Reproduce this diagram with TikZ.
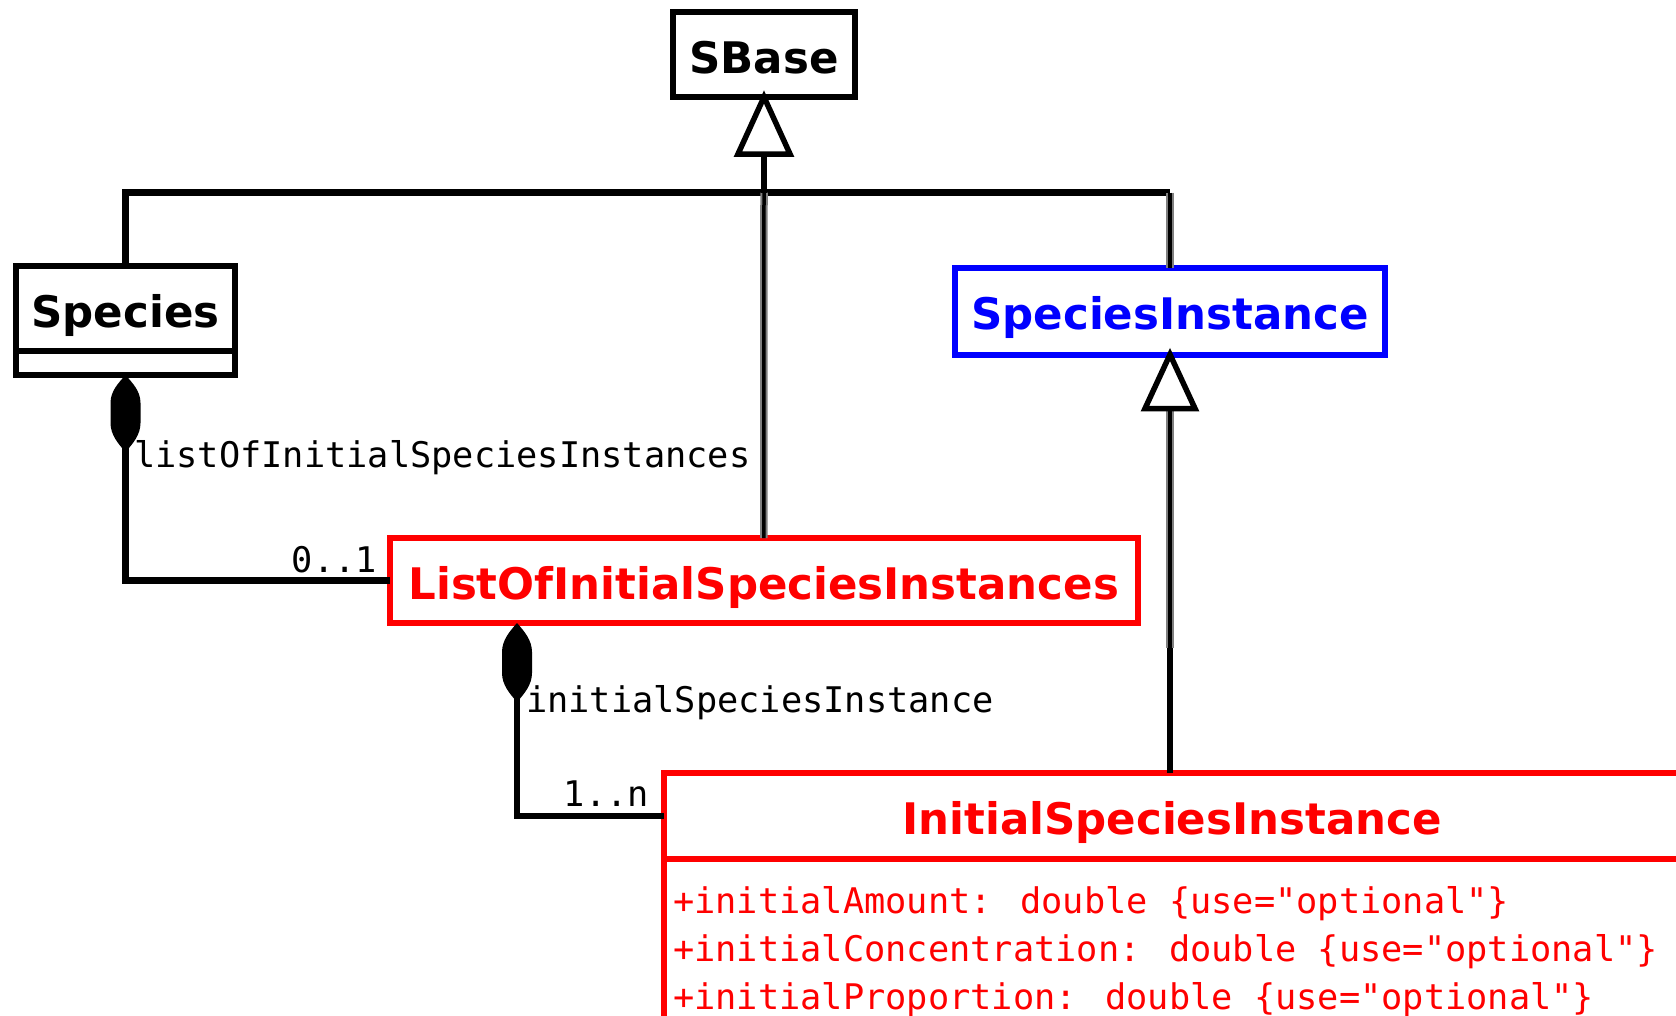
\documentclass[tikz,border=0pt]{standalone}
\usepackage{fontspec}
\setmainfont{DejaVu Sans}
\newfontfamily\monof{DejaVu Sans Mono}
\usetikzlibrary{calc}
\definecolor{umlred}{RGB}{255,0,0}
\definecolor{umlblue}{RGB}{0,0,255}
\tikzset{
  cls/.style={draw=black, line width=6pt, inner sep=0pt, outer sep=0pt,
    text height=37pt, text depth=0pt,
    font=\fontsize{43.5}{50}\selectfont\bfseries},
  redcls/.style={cls, draw=umlred, text=umlred},
  bluecls/.style={cls, draw=umlblue, text=umlblue},
  compart/.style={draw=black, line width=6pt, inner sep=0pt, outer sep=0pt},
  monolabel/.style={inner sep=0pt, font=\monof\fontsize{35.3}{40}\selectfont},
  redattr/.style={monolabel, text=umlred},
  blk/.style={draw=black, line width=6.5pt},
  grayline/.style={draw=black, line width=3.5pt, preaction={draw=black!50, line width=7.5pt}},
  gentri/.style={draw=black, line width=5.5pt, fill=white},
  compdiam/.style={fill=black}
}
\begin{document}
\begin{tikzpicture}[x=1pt,y=-1pt]
\useasboundingbox (0,0) rectangle (1676,1015);
\clip (0,0) rectangle (1676,1015);
\fill[white] (0,0) rectangle (1676,1015);

% classes
\node[cls, minimum width=182pt, minimum height=85pt] (sbase) at (764,54.5) {SBase};
\node[cls, minimum width=219pt, minimum height=85pt] (species) at (125.5,308.5) {Species};
\node[compart, minimum width=219pt, minimum height=24pt, anchor=north] (speciesattr) at (species.south) {};
\node[bluecls, minimum width=430pt, minimum height=87pt] (si) at (1170,311) {SpeciesInstance};
\node[redcls, minimum width=748.5pt, minimum height=85pt] (loisi) at (763.75,580.5) {ListOfInitialSpeciesInstances};
\node[redcls, minimum width=1016pt, minimum height=86pt] (isi) at (1172,816) {InitialSpeciesInstance};
\node[compart, draw=umlred, minimum width=1016pt, minimum height=260pt, anchor=north] (isiattr) at (isi.south) {};
\node[redattr, anchor=base west] (a1) at (673,913) {+initialAmount: double \{use="optional"\}};
\node[redattr, anchor=base west] (a2) at (673,961) {+initialConcentration: double \{use="optional"\}};
\node[redattr, anchor=base west] (a3) at (673,1009) {+initialProportion: double \{use="optional"\}};

% generalization to SBase
\coordinate (hline) at (764,192.5);
\coordinate (sbtri) at ($(sbase.south)+(0,57)$);
\draw[blk] (species.north) -- (species.north |- hline) -- (hline -| si.north);
\draw[grayline] (hline -| si.north) -- (si.north);
\draw[grayline] (hline) -- (loisi.north);
\draw[blk] (sbtri) -- (hline);
\draw[gentri] (sbase.south) -- ++(-26,57) -- ++(52,0) -- cycle;

% generalization to SpeciesInstance
\coordinate (sitri) at ($(si.south)+(0,54)$);
\coordinate (sibreak) at (1170,648);
\draw[grayline] (sitri) -- (sibreak);
\draw[blk] (sibreak) -- (sibreak |- isi.north);
\draw[gentri] (si.south) -- ++(-25,54) -- ++(50,0) -- cycle;

% composition Species -> ListOf
\coordinate (d1top) at (speciesattr.south);
\coordinate (d1mid) at ($(d1top)+(0,40)$);
\draw[blk] (d1mid) |- (loisi.west);
\fill[compdiam] (d1top) .. controls +(7,8) and +(0,-12) .. ++(15,28) -- ++(0,20)
  .. controls +(0,12) and +(7,-8) .. ++(-15,29)
  .. controls +(-7,-8) and +(0,12) .. ++(-15,-29) -- ++(0,-20)
  .. controls +(0,-12) and +(-7,8) .. (d1top) -- cycle;
\node[monolabel, anchor=base west] (l1) at (134,467) {listOfInitialSpeciesInstances};
\node[monolabel, anchor=base east] (m1) at (377,572) {0..1};

% composition ListOf -> InitialSpeciesInstance
\coordinate (d2top) at ($(loisi.south west)+(127.5,0)$);
\coordinate (d2mid) at ($(d2top)+(0,40)$);
\draw[blk] (d2mid) |- (isi.west);
\fill[compdiam] (d2top) .. controls +(7,8) and +(0,-12) .. ++(15,29) -- ++(0,21)
  .. controls +(0,12) and +(7,-8) .. ++(-15,29)
  .. controls +(-7,-8) and +(0,12) .. ++(-15,-29) -- ++(0,-21)
  .. controls +(0,-12) and +(-7,8) .. (d2top) -- cycle;
\node[monolabel, anchor=base west] (l2) at (526,712) {initialSpeciesInstance};
\node[monolabel, anchor=base east] (m2) at (649,806) {1..n};
\end{tikzpicture}
\end{document}
